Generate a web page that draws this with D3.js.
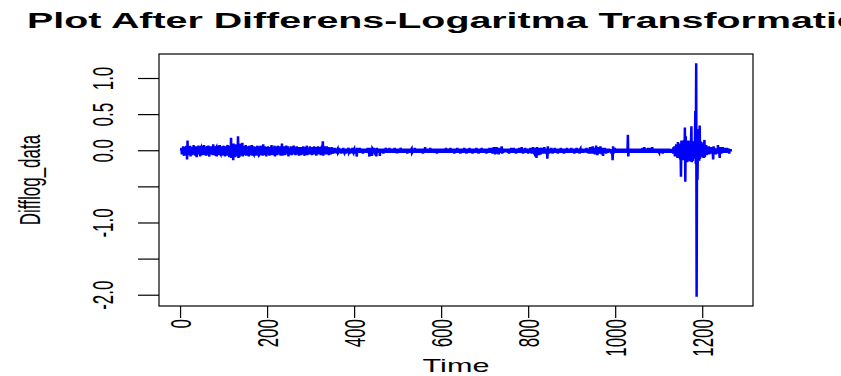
<!DOCTYPE html>
<html>
<head>
<meta charset="utf-8">
<script src="https://cdn.jsdelivr.net/npm/d3@7"></script>
<style>
  body { margin: 0; background: #fff; }
  svg { display: block; }
</style>
</head>
<body>
<div id="chart"></div>
<script>
// log-differenced series, stored in hundredths, time = 1..1265
const diffSeg1 = [ // t 1-250
  0,4,-5,2,-4,6,-2,-7,5,3,-4,-6,7,2,-12,14,-5,4,-6,5,-2,7,-8,4,-3,
  5,-6,2,-4,8,-5,1,4,-7,6,-3,-9,5,2,-5,7,-4,-2,6,-8,4,5,-4,-6,7,
  -2,4,-5,8,-6,2,-4,5,-7,4,6,-5,-2,7,-4,-8,5,2,-4,6,-5,4,-2,-6,9,
  -5,2,-4,6,-7,4,5,-8,2,-3,7,-5,4,-6,8,-4,-5,2,6,-7,5,-2,-4,7,-6,
  4,-8,6,-2,5,-7,4,8,-6,-4,7,-9,5,2,-6,18,-10,6,-8,7,-13,10,-5,8,-9,
  6,-7,9,-5,4,-8,20,-10,7,-9,6,-5,10,-7,4,-6,11,-8,5,-4,7,-6,2,-5,8,
  -7,4,-4,6,-5,2,-8,7,-4,5,-6,4,-2,8,-7,5,-4,-5,6,-2,4,-7,5,2,-6,
  7,-4,-5,6,-8,4,2,-5,7,-6,4,-2,5,-7,9,-6,2,-4,6,-5,4,-8,5,2,-4,
  6,-5,4,-7,5,-2,4,-6,8,-5,2,-4,5,-6,4,7,-8,2,-4,5,-2,-6,7,-4,2,
  -5,6,-4,4,-7,5,-2,10,-7,4,-5,6,-4,2,-6,5,-4,7,-5,2,-4,6,-8,4,2
];
const diffSeg2 = [ // t 251-500
  -5,4,-2,6,-6,5,-4,2,-5,7,-4,-2,5,-6,4,-4,6,-5,2,-2,5,-7,4,2,-4,
  5,-6,4,-2,4,-5,6,-4,2,-7,5,-2,4,-5,7,-6,2,4,-5,2,-4,6,-5,4,-2,
  4,-6,5,-2,2,-5,6,-4,4,-2,5,-7,4,2,-5,6,-4,-2,5,-4,2,-6,4,5,-4,
  2,13,-7,5,-4,6,-5,4,-2,-5,6,-4,2,-4,5,-6,4,-2,4,-5,2,5,-4,-2,4,
  -4,3,-2,4,-3,2,-3,3,-4,2,3,-3,-2,4,-3,2,-2,3,-4,3,-2,2,-3,4,-2,
  -3,3,-2,2,-4,3,-2,3,-3,2,4,-3,-2,3,-4,2,-2,3,-3,4,-2,-3,2,3,-4,
  2,-3,3,-2,-8,4,-2,3,-3,2,-2,4,-3,2,-3,3,-2,2,-4,3,-2,3,-2,2,-3,
  3,-2,2,-3,4,-3,2,-2,-8,4,-2,3,-3,2,-7,3,2,-3,4,-2,-3,3,-2,2,-8,
  4,-2,2,-3,3,-2,2,-7,3,-2,3,-3,2,-2,3,-4,2,-2,3,-3,2,4,-3,2,-2,
  3,-3,2,-2,4,-3,2,-2,3,-2,2,-3,3,-2,2,-3,4,-2,2,-3,3,-2,-2,3,-3
];
const diffSeg3 = [ // t 501-750
  2,-2,3,-3,2,4,-3,2,-2,3,-3,2,-2,3,-2,2,-3,3,-2,2,-4,3,-2,2,-3,
  3,-2,2,-3,2,3,-3,-2,3,-2,2,-3,4,-2,2,-2,3,-3,2,-2,3,-2,2,-3,3,
  -2,2,-3,3,-2,2,-4,3,-2,2,-3,5,-3,2,-2,3,-2,2,-3,3,-2,2,-3,4,-2,
  2,-3,3,-2,2,-2,3,-3,2,-2,3,-2,2,-4,3,-2,2,-3,3,-2,2,-2,3,-3,2,
  -2,3,-2,2,-3,3,-2,2,-3,4,-2,2,-3,3,-2,2,-3,3,-2,4,-3,2,-2,3,-3,
  2,-3,3,-4,2,-2,3,-3,2,-2,4,-3,2,-2,3,-3,2,-4,3,-2,2,-3,3,-2,2,
  -3,4,-2,2,-3,3,-4,2,-2,3,-3,2,-2,4,-3,2,-3,3,-2,2,-4,3,-2,2,-3,
  3,-2,2,-3,4,-3,2,-2,3,-4,2,-2,3,-3,2,-2,4,-3,2,-3,3,-2,2,-3,3,
  -2,2,-4,3,-2,3,-3,2,-2,4,-3,2,-3,3,-2,4,-4,3,-2,5,-4,3,-5,4,-3,
  5,-3,2,-4,3,-5,4,-2,1,-3,4,-2,6,-4,2,-3,3,-2,1,-2,2,-1,3,-2,1
];
const diffSeg4 = [ // t 751-1000
  -2,3,-3,2,-4,3,-2,2,-3,4,-2,2,-3,3,-2,4,-3,2,-2,3,-4,2,-2,3,-3,
  2,-3,4,-2,2,-3,3,-2,5,-3,2,-4,3,-2,2,-3,4,-3,2,-2,3,-3,2,-4,3,
  -1,2,-3,4,-2,1,-4,3,-2,5,-3,2,-5,3,-8,4,-2,-10,5,-3,2,-4,3,-6,4,
  -2,3,-5,2,4,-3,1,-4,3,-2,5,-3,2,-4,1,3,-2,-11,6,-3,2,-4,3,-2,1,
  -3,4,-2,3,-4,2,-3,3,-2,4,-3,2,-2,3,-3,2,-4,3,-2,3,-3,2,-2,4,-3,
  2,-3,3,-2,2,-4,3,-2,3,-3,2,-2,4,-3,2,-3,3,-2,2,-3,3,-2,4,-3,2,
  -2,3,-3,2,-4,3,-2,2,-3,4,-2,3,-3,2,-2,3,-4,2,3,-3,2,-2,3,-3,2,
  -3,2,-1,3,-2,1,-2,4,-3,2,-1,3,-4,2,-1,5,-3,2,-4,3,-2,6,-4,2,-3,
  4,-5,3,-2,7,-4,2,-6,3,-3,5,-2,1,-4,6,-3,2,-5,4,-2,-7,3,1,-3,4,
  -2,2,-4,3,-1,2,-3,1,-2,3,-1,2,-2,1,-4,2,-3,-13,6,-4,3,-2,4,-3,1
];
const diffSeg5 = [ // t 1001-1265
  -2,3,-3,2,-2,3,-3,2,-3,3,-2,2,-3,3,-2,3,-3,2,-2,3,-3,2,-2,3,-3,
  2,-3,22,-8,3,-2,3,-3,2,-2,3,-3,2,-3,3,-2,2,-3,3,-2,3,-3,2,-2,3,
  -3,2,-2,3,-3,2,-2,3,-3,2,-2,4,-3,2,-3,5,-3,2,-2,3,-3,2,-2,4,-3,
  2,-3,3,-2,4,-3,2,-3,5,-3,2,-2,3,-3,2,-2,3,-3,2,-2,3,-3,3,-2,-3,
  3,-2,2,-3,3,-2,2,-4,3,-2,3,-3,2,-2,3,-2,2,-3,3,-3,2,-2,3,-3,2,
  -1,2,-3,2,-1,3,-4,5,-3,6,-8,4,-6,9,-7,5,-10,12,-9,6,-8,10,-12,8,-36,
  14,-9,11,-13,8,-10,15,-12,32,-43,20,-14,12,-16,10,-11,14,-9,13,-15,8,-12,10,34,-16,
  12,-14,9,-11,13,-10,8,55,-18,121,-202,30,-40,15,-12,10,-14,35,-11,13,-9,12,-8,10,-7,
  8,-10,6,15,-9,7,-5,8,-6,4,-3,5,-4,6,-5,3,-2,4,-3,5,-4,2,-3,-12,6,
  -3,4,-2,3,-5,2,-1,3,-4,8,-3,2,-2,-10,5,-3,2,-4,3,-2,5,-3,1,-2,4,
  -3,2,-1,3,-2,4,-3,1,-2,3,-4,2,-1,2,-1
];

const xTicks = [0, 200, 400, 600, 800, 1000, 1200];
const xTickLabels = ["0", "200", "400", "600", "800", "1000", "1200"];
const yTicks = [-2, -1.5, -1, -0.5, 0, 0.5, 1];
const yTickLabels = ["-2.0", "", "-1.0", "", "0.0", "0.5", "1.0"];

const titleText = "Plot After Differens-Logaritma Transformation";
const xLabel = "Time";
const yLabel = "Difflog_data";

const values = [].concat(diffSeg1, diffSeg2, diffSeg3, diffSeg4, diffSeg5).map(d => d / 100);
const series = values.map((v, i) => ({ t: i + 1, v: v }));

const width = 841, height = 376;
const box = { left: 159, right: 753, top: 54, bottom: 306 };
const sx = 1.75; // the picture is stretched horizontally
const font = "'Liberation Sans', Arial, sans-serif";

// R-style 4% padding around the data range
function padded(ext) {
  const p = (ext[1] - ext[0]) * 0.04;
  return [ext[0] - p, ext[1] + p];
}

const x = d3.scaleLinear()
  .domain(padded(d3.extent(series, d => d.t)))
  .range([box.left, box.right]);

const y = d3.scaleLinear()
  .domain(padded(d3.extent(series, d => d.v)))
  .range([box.bottom, box.top]);

const svg = d3.select("#chart")
  .append("svg")
  .attr("width", width)
  .attr("height", height);

svg.append("rect")
  .attr("width", width)
  .attr("height", height)
  .attr("fill", "#fff");

const line = d3.line()
  .x(d => x(d.t))
  .y(d => y(d.v));

svg.append("path")
  .datum(series)
  .attr("d", line)
  .attr("fill", "none")
  .attr("stroke", "#0000ff")
  .attr("stroke-width", 2.5)
  .attr("stroke-linejoin", "miter");

svg.append("rect")
  .attr("x", box.left)
  .attr("y", box.top)
  .attr("width", box.right - box.left)
  .attr("height", box.bottom - box.top)
  .attr("fill", "none")
  .attr("stroke", "#000")
  .attr("stroke-width", 1.2);

// x axis ticks
svg.selectAll(".xtick")
  .data(xTicks)
  .enter().append("line")
  .attr("x1", d => x(d))
  .attr("x2", d => x(d))
  .attr("y1", box.bottom)
  .attr("y2", box.bottom + 12)
  .attr("stroke", "#000")
  .attr("stroke-width", 1.2);

svg.selectAll(".xlab")
  .data(xTicks)
  .enter().append("g")
  .attr("transform", d => "translate(" + x(d) + "," + (box.bottom + 13) + ") scale(" + sx + ",1) rotate(-90)")
  .append("text")
  .attr("text-anchor", "end")
  .attr("dy", "0.35em")
  .style("font-family", font)
  .style("font-size", "17px")
  .text((d, i) => xTickLabels[i]);

// y axis ticks
svg.selectAll(".ytick")
  .data(yTicks)
  .enter().append("line")
  .attr("x1", box.left - 21)
  .attr("x2", box.left)
  .attr("y1", d => y(d))
  .attr("y2", d => y(d))
  .attr("stroke", "#000")
  .attr("stroke-width", 1.2);

svg.selectAll(".ylab")
  .data(yTicks)
  .enter().append("g")
  .attr("transform", d => "translate(103," + y(d) + ") scale(" + sx + ",1) rotate(-90)")
  .append("text")
  .attr("text-anchor", "middle")
  .attr("dy", "0.35em")
  .style("font-family", font)
  .style("font-size", "17px")
  .text((d, i) => yTickLabels[i]);

// titles
svg.append("g")
  .attr("transform", "translate(" + ((box.left + box.right) / 2) + ",28) scale(" + sx + ",1)")
  .append("text")
  .attr("text-anchor", "middle")
  .style("font-family", font)
  .style("font-weight", "bold")
  .style("font-size", "22.5px")
  .text(titleText);

svg.append("g")
  .attr("transform", "translate(" + ((box.left + box.right) / 2) + ",372) scale(" + sx + ",1)")
  .append("text")
  .attr("text-anchor", "middle")
  .style("font-family", font)
  .style("font-size", "17.5px")
  .text(xLabel);

svg.append("g")
  .attr("transform", "translate(30," + ((box.top + box.bottom) / 2) + ") scale(" + sx + ",1) rotate(-90)")
  .append("text")
  .attr("text-anchor", "middle")
  .attr("dy", "0.35em")
  .style("font-family", font)
  .style("font-size", "17px")
  .text(yLabel);
</script>
</body>
</html>
